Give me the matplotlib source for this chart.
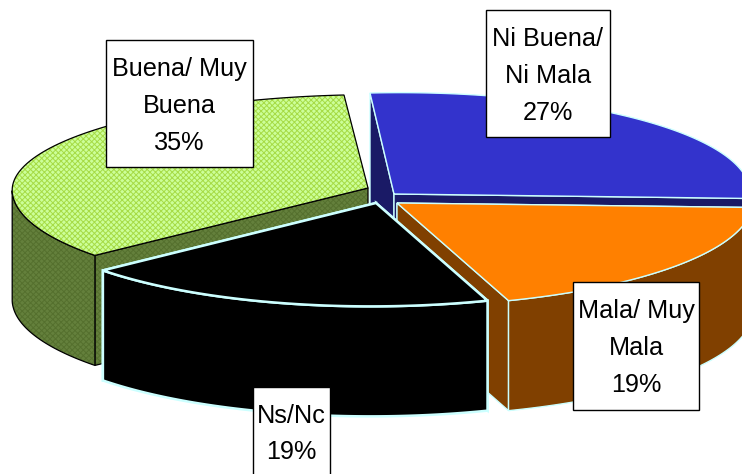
import numpy as np
import matplotlib
matplotlib.use("Agg")
import matplotlib.pyplot as plt
from matplotlib.patches import Polygon, Rectangle

plt.rcParams['font.family'] = ['Liberation Sans', 'DejaVu Sans']
plt.rcParams['hatch.linewidth'] = 0.7

# slices, clockwise from the top of the pie
labels = ["Ni Buena/\nNi Mala", "Mala/ Muy\nMala", "Ns/Nc", "Buena/ Muy\nBuena"]
shares = [27, 19, 19, 35]

top_colors = ["#3333CC", "#FF8000", "#000000", "#CCFF99"]
side_colors = ["#1A1A66", "#804000", "#000000", "#64803C"]
edge_colors = ["#CCFFFF", "#CCFFFF", "#CCFFFF", "#000000"]
edge_widths = [1.0, 1.0, 1.8, 0.9]
top_hatch = [None, None, None, "xxxxxx"]
hatch_colors = [None, None, None, "#A6DB45"]
side_hatch_colors = [None, None, None, "#55702E"]
show_end_face = [True, True, True, False]

# where the tip of each exploded slice sits, in pixels
tips = [(394, 194), (397, 203), (376, 203), (368, 188)]
# label boxes: left, top, width, height
boxes = [(486, 10, 124, 127), (573, 282, 126, 128), (253, 387, 77, 100), (106, 40, 147, 127)]

# the tilted disc: a point on the unit circle goes to pixels through this
RX, SHEAR, RY_FRONT, TILT = 355, -24, 103, -8.5
# far side of the disc is flatter, and not the same on each slice
ry_back = [101, 100, 100, 93]
DEPTH = 110
LINE_PX = 38


def project(tip, t, back):
    u, v = np.sin(t), np.cos(t)
    ry = np.where(v > 0, back, RY_FRONT)
    return np.column_stack([tip[0] + RX * u + SHEAR * v, tip[1] - ry * v + TILT * u])


fig = plt.figure(figsize=(7.42, 4.74), dpi=100)
ax = fig.add_axes([0, 0, 1, 1])
ax.set_xlim(0, 742)
ax.set_ylim(474, 0)
ax.axis('off')

# start angle and end angle of every slice
ends = np.cumsum(shares) / np.sum(shares) * 2 * np.pi
starts = ends - np.array(shares) / np.sum(shares) * 2 * np.pi

# back slices first so the front ones cover them
for z, i in zip([20, 30, 40, 50], [0, 3, 1, 2]):
    tip = np.array(tips[i], dtype=float)
    t = np.linspace(starts[i], ends[i], 160)
    arc = project(tip, t, ry_back[i])
    down = np.array([0, DEPTH])
    side_kw = dict(facecolor=side_colors[i], edgecolor="none", zorder=z)
    if side_hatch_colors[i]:
        # hatch goes on a separate patch, its colour comes from edgecolor
        side_kw.update(edgecolor=side_hatch_colors[i], hatch="xxxxxx", linewidth=0)

    faces = [[arc[0], tip, tip + down, arc[0] + down]]
    if show_end_face[i]:
        faces.append([arc[-1], tip, tip + down, arc[-1] + down])
    # outer wall, only the part of the arc that faces the viewer
    front = arc[RX * np.cos(t) - SHEAR * np.sin(t) < 0]
    if len(front) > 1:
        faces.append(np.vstack([front, (front + down)[::-1]]))
    for face in faces:
        ax.add_patch(Polygon(face, closed=True, **side_kw))
        ax.add_patch(Polygon(face, closed=True, fill=False, edgecolor=edge_colors[i],
                             linewidth=edge_widths[i], zorder=z))

    outline = np.vstack([tip, arc])
    if top_hatch[i]:
        ax.add_patch(Polygon(outline, closed=True, facecolor=top_colors[i],
                             edgecolor=hatch_colors[i], hatch=top_hatch[i],
                             linewidth=0, zorder=z + 1))
    else:
        ax.add_patch(Polygon(outline, closed=True, facecolor=top_colors[i],
                             edgecolor="none", zorder=z + 1))
    ax.add_patch(Polygon(outline, closed=True, fill=False, edgecolor=edge_colors[i],
                         linewidth=edge_widths[i], zorder=z + 1))

# data labels in white boxes
for label, share, (x, y, w, h) in zip(labels, shares, boxes):
    ax.add_patch(Rectangle((x, y), w, h, facecolor="white", edgecolor="black",
                           linewidth=1.0, zorder=100))
    n_lines = label.count("\n") + 2
    ax.text(x + w / 2, y + 28 + (n_lines - 1) * LINE_PX / 2, f"{label}\n{share}%",
            ha='center', va='center', fontsize=18.2, color="black",
            linespacing=1.68, zorder=101)

fig.savefig("out.png", dpi=100)
